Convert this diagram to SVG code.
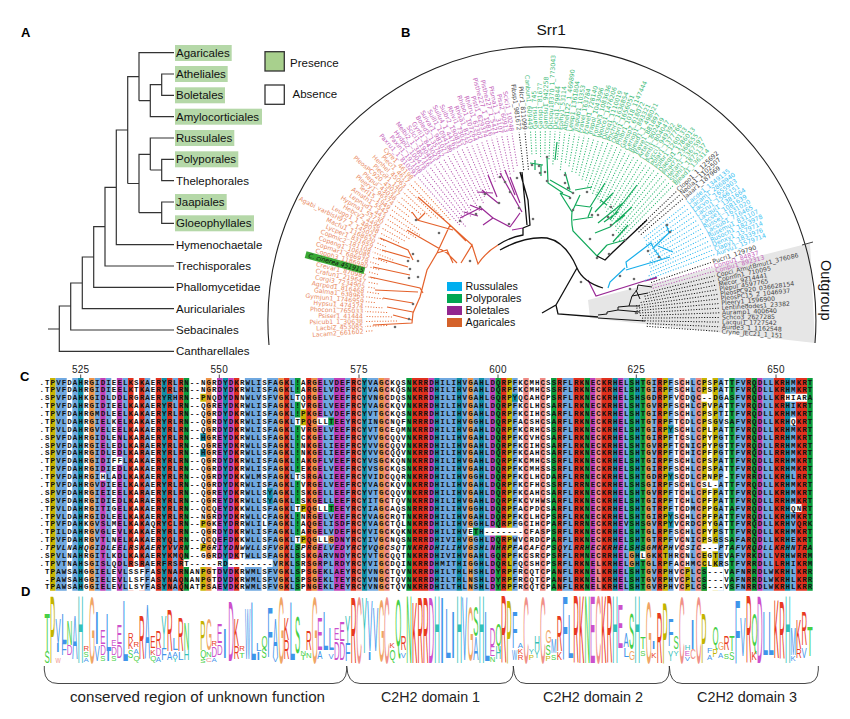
<svg xmlns="http://www.w3.org/2000/svg" width="850" height="719" viewBox="0 0 850 719">
<style>
text{font-family:"Liberation Sans",Arial,sans-serif}
.pl{font-size:13px;font-weight:bold;fill:#000}
.ln{fill:none;stroke:#333;stroke-width:1.2}
.sp{font-size:11.500px;fill:#111}
.hl{fill:#b5d8a8}
.lf text{font-family:"DejaVu Sans",sans-serif;font-size:6.200px}
.lf path{fill:none;stroke-width:1;stroke-dasharray:1.100 1.600}
.L{text-anchor:end}
.ko text{fill:#e98a63}.ko path{stroke:#e8703c}
.kp text{fill:#c464bb}.kp path{stroke:#b352ae}
.kg text{fill:#3dba78}.kg path{stroke:#22b569}
.kb text{fill:#43c3f2}.kb path{stroke:#2ab8ef}
.kk text{fill:#444}.kk path{stroke:#111}
.sl{fill:none;stroke-width:1.200}
.dots circle{fill:#6a6a6a}
.bg path{fill:none;stroke-width:1}
.y{stroke:#c8b400}.b{stroke:#6fa8e0}.t{stroke:#0f8fa8}.r{stroke:#e0301e}.m{stroke:#c040b8}.n{stroke:#0a9d3c}.c{stroke:#ee8a84}.o{stroke:#ee9448}.w{stroke:#fff}
.aln text{font-family:"Liberation Mono",monospace;font-weight:bold;font-size:7.500px;letter-spacing:1.067px;fill:#111}
.num{font-size:10px;fill:#222;text-anchor:middle;letter-spacing:.3px}
#logo text{font-size:10px}
#logo .G{fill:#46cf46}#logo .P{fill:#c4b400}#logo .B{fill:#3f95ea}#logo .T{fill:#35bfb8}#logo .O{fill:#f0a565}#logo .C{fill:#f09088}#logo .R{fill:#e83a22}#logo .M{fill:#cc50cc}
.dm{font-size:14px;fill:#222}
</style>

<text class="pl" x="21" y="37">A</text>
<text class="pl" x="401" y="37">B</text>
<text class="pl" x="20" y="381">C</text>
<text class="pl" x="21" y="596">D</text>

<g id="panelA">
<g id="highlights">
<rect class="hl" x="175" y="45" width="56.700" height="16"/>
<rect class="hl" x="175" y="66" width="52.700" height="16"/>
<rect class="hl" x="175" y="87.300" width="50" height="16"/>
<rect class="hl" x="175" y="108.700" width="87" height="16"/>
<rect class="hl" x="175" y="130" width="59.300" height="16"/>
<rect class="hl" x="175" y="151.300" width="63.300" height="16"/>
<rect class="hl" x="175" y="194" width="51.700" height="16"/>
<rect class="hl" x="175" y="215.300" width="79" height="16"/>
</g>
<g id="speciesTree">
<path class="ln" d="M174 52.700H139V100.700M174 74H161.700V95.300H174M161.700 84.700H150.300V116.700H174M150.300 100.700H139M139 76.700H127.700V183.500M174 138H150.300V170M174 159.300H161.700V180.700H174M161.700 170H150.300M150.300 154.300H139V212.700M174 202H161.700V223.300H174M161.700 212.700H139M139 183.500H127.700M127.700 130H116.300V244.700H174M116.300 187.300H105V266H174M105 226.700H93.700V287.300H174M93.700 257H82.300V308.700H174M82.300 283H70.700V330H174M70.700 306H59.300V351.300H174M59.300 329H48"/>
</g>
<g class="sp">
<text x="176" y="56.700">Agaricales</text>
<text x="176" y="78">Atheliales</text>
<text x="176" y="99.300">Boletales</text>
<text x="176" y="120.700">Amylocorticiales</text>
<text x="176" y="142">Russulales</text>
<text x="176" y="163.300">Polyporales</text>
<text x="176" y="184.700">Thelephorales</text>
<text x="176" y="206">Jaapiales</text>
<text x="176" y="227.300">Gloeophyllales</text>
<text x="176" y="248.700">Hymenochaetale</text>
<text x="176" y="270">Trechisporales</text>
<text x="176" y="291.300">Phallomycetidae</text>
<text x="176" y="312.700">Auriculariales</text>
<text x="176" y="334">Sebacinales</text>
<text x="176" y="355.300">Cantharellales</text>
</g>
<g id="legendA">
<rect x="265" y="51.700" width="19.300" height="19.300" fill="#a8d08d" stroke="#333" stroke-width="1.300"/>
<rect x="265" y="85" width="19.300" height="19.300" fill="#fff" stroke="#333" stroke-width="1.300"/>
<text x="290" y="66.700" font-size="11.500" fill="#111">Presence</text>
<text x="292.500" y="98" font-size="11.500" fill="#111">Absence</text>
</g>
</g>

<g id="panelB">
<path d="M588 300L810 243L815 343L590 318Z" fill="#e6e6e6"/>
<path d="M269 345A274 274 0 1 1 815 343" fill="none" stroke="#222" stroke-width="1.100"/>
<path d="M802 245L813 242" stroke="#444" stroke-width="1"/>
<text x="536.500" y="35" font-size="15.500" fill="#111">Srr1</text>
<text transform="translate(821 260) rotate(90)" font-size="14.500" fill="#111">Outgroup</text>

<g id="connectors">
<path class="sl" stroke="#e4622c" d="M498 245Q486 252 478 264L472 245L461 263M418 197L450 225L466 241M412 212L418 220L425 213M417 220L453 230M407 230L447 253L457 263M380 238L408 250L413 260M382 250L410 258M378 258L408 267M373 267L410 275M370 277L420 288L423 293M375 290L418 292M383 298L413 303M387 307L413 312M393 315L412 320M373 325L412 323L413 313L420 297L427 270L437 253L447 250L453 263M437 253L450 225L472 245"/>
<path class="sl" stroke="#9a2a96" d="M512 230L523 228M510 227L493 218L483 225M493 218L480 207M480 208L460 218M477 192L493 193M498 203L482 190M520 203L510 177M522 212L500 173M513 223L520 213L510 227M588 280L596 296L657 277M645 281L657 278M488 175L497 197M505 170L515 195M464 212L478 216M470 205L482 210"/>
<path class="sl" stroke="#12a95b" d="M597 256L573 231Q571 222 572 212L560 193M560 193L570 197M573 220L593 217M588 217L592 207M590 207L605 183M595 212L613 193M598 223L623 203M610 220L637 185M595 233L610 227L632 207M607 245L625 240M613 242L628 225M597 256L607 245M530 163L543 165M547 157L548 183L563 193M557 142L555 160M575 190L592 187M550 180L573 193M535 160V170M541 165V176M565 172L570 190M580 195L572 212M600 200L607 205M604 222L618 212M575 205L590 207M616 222L625 215"/>
<path class="sl" stroke="#18aeea" d="M608 288L610 282L625 268M627 268L626 262L651 243L654 249M626 270L670 257M654 247L672 230M666 224L669 233M654 249L662 260M658 246L673 252"/>
<g class="sl" stroke="#111">
<path fill="none" stroke-width="1.300" d="M498 245Q510 237 523 235V228M500 250Q525 236 547 238Q566 242 577 268Q583 282 603 288M523 228L530 225L528 200L520 172M527 225L522 172M542 313L556 305L558 314L598 317M556 305L577 268M605 260L613 252L647 220M597 256L605 260L613 252"/>
<path fill="none" stroke-width="1" d="M598 315L607 314V312L618 310V307L629 306L632 296L637 290L638 285L652 287M598 318L645 321M629 306L640 306M632 296L648 293M636 290L640 299M618 310L640 312"/>
</g>
</g>

<g class="lf" transform="translate(542 319)">
<g id="agaricales" class="ko L">
<g transform="rotate(-4)"><path d="M-170 0H-177"/><text x="-179" y="2">Lacam2_661602</text></g>
<g transform="rotate(-2.400)"><path d="M-155 0H-177"/><text x="-179" y="2">Lacbi2_453085</text></g>
<g transform="rotate(-.8)"><path d="M-145 0H-177"/><text x="-179" y="2">Psicub1_1_30638</text></g>
<g transform="rotate(.8)"><path d="M-150 0H-177"/><text x="-179" y="2">Psiser1_41444</text></g>
<g transform="rotate(2.400)"><path d="M-155 0H-177"/><text x="-179" y="2">Phocon1_765033</text></g>
<g transform="rotate(4)"><path d="M-160 0H-177"/><text x="-179" y="2">Hypsu1_474374</text></g>
<g transform="rotate(5.600)"><path d="M-168 0H-177"/><text x="-179" y="2">Gymjun1_1746959</text></g>
<g transform="rotate(7.200)"><path d="M-160 0H-177"/><text x="-179" y="2">Galma1_638965</text></g>
<g transform="rotate(8.800)"><path d="M-165 0H-178"/><text x="-180" y="2">Agrped1_816468</text></g>
<g transform="rotate(10.400)"><path d="M-170 0H-178"/><text x="-180" y="2">Corgi3_7234905</text></g>
<g transform="rotate(12)"><path d="M-168 0H-178"/><text x="-180" y="2">Crafun1_219647</text></g>
<g transform="rotate(13.600)"><path d="M-172 0H-179"/><text x="-181" y="2">Crevar1_870987</text></g>
<g transform="rotate(15.200)"><rect x="-245" y="-3.600" width="61" height="7" fill="#3aa935"/><path d="M-170 0H-180"/><text x="-185" y="2" style="fill:#111;font-style:italic">C. cinerea 451915</text></g>
<g transform="rotate(16.800)"><path d="M-170 0H-180"/><text x="-182" y="2">Copph3_1186980</text></g>
<g transform="rotate(18.400)"><path d="M-172 0H-181"/><text x="-183" y="2">Copmar1_686978</text></g>
<g transform="rotate(20)"><path d="M-165 0H-181"/><text x="-183" y="2">Copang1_106085</text></g>
<g transform="rotate(21.600)"><path d="M-160 0H-182"/><text x="-184" y="2">Copmic2_181108</text></g>
<g transform="rotate(23.200)"><path d="M-170 0H-182"/><text x="-184" y="2">Lycper1_831659</text></g>
<g transform="rotate(24.800)"><path d="M-172 0H-182"/><text x="-184" y="2">Macfu1_1168630</text></g>
<g transform="rotate(26.400)"><path d="M-176 0H-183"/><text x="-185" y="2">Agabi_varbisH97_2_145024</text></g>
<g transform="rotate(28)"><path d="M-162 0H-183"/><text x="-185" y="2">Leugo1_1_48038</text></g>
<g transform="rotate(29.600)"><path d="M-158 0H-184"/><text x="-186" y="2">Hebcy2_4496</text></g>
<g transform="rotate(31.200)"><path d="M-155 0H-184"/><text x="-186" y="2">Hypma1_55730</text></g>
<g transform="rotate(32.800)"><path d="M-150 0H-185"/><text x="-187" y="2">Lepnud1_443</text></g>
<g transform="rotate(34.400)"><path d="M-148 0H-185"/><text x="-187" y="2">Amath1_5542</text></g>
<g transform="rotate(36)"><path d="M-152 0H-186"/><text x="-188" y="2">Terl15_1949</text></g>
<g transform="rotate(37.600)"><path d="M-168 0H-186"/><text x="-188" y="2">Pleery1_96574</text></g>
<g transform="rotate(39.200)"><path d="M-165 0H-187"/><text x="-189" y="2">Plepul_43038</text></g>
<g transform="rotate(40.800)"><path d="M-160 0H-187"/><text x="-189" y="2">PleosPC920_43037</text></g>
<g transform="rotate(42.400)"><path d="M-150 0H-188"/><text x="-190" y="2">Plecor1_140</text></g>
<g transform="rotate(44)"><path d="M-145 0H-188"/><text x="-190" y="2">Henhel_45063</text></g>
<g transform="rotate(45.600)"><path d="M-140 0H-189"/><text x="-191" y="2">Pleci1_4617</text></g>
<g transform="rotate(47.200)"><path d="M-135 0H-189"/><text x="-191" y="2">Cyre1_46198</text></g>
</g>
<g id="boletales" class="kp L">
<g transform="rotate(48.800)"><path d="M-125 0H-188"/><text x="-190" y="2">Paxru1_1_810291</text></g>
<g transform="rotate(50.400)"><path d="M-120 0H-188"/><text x="-190" y="2">Paxin1_197108</text></g>
<g transform="rotate(52)"><path d="M-128 0H-188"/><text x="-190" y="2">Hydpi2_100478</text></g>
<g transform="rotate(53.600)"><path d="M-130 0H-188"/><text x="-190" y="2">Melbi2_1_385716</text></g>
<g transform="rotate(55.200)"><path d="M-125 0H-188"/><text x="-190" y="2">Sclci1_190461</text></g>
<g transform="rotate(56.800)"><path d="M-130 0H-188"/><text x="-190" y="2">Gyrli1_843023</text></g>
<g transform="rotate(58.400)"><path d="M-140 0H-188"/><text x="-190" y="2">Boled5_135762</text></g>
<g transform="rotate(60)"><path d="M-125 0H-188"/><text x="-190" y="2">Suivar1_981027</text></g>
<g transform="rotate(61.600)"><path d="M-135 0H-188"/><text x="-190" y="2">Suill1_1094186</text></g>
<g transform="rotate(63.200)"><path d="M-130 0H-188"/><text x="-190" y="2">Suilu4_1_44762</text></g>
<g transform="rotate(64.800)"><path d="M-135 0H-188"/><text x="-190" y="2">Suibr2_190831</text></g>
<g transform="rotate(66.400)"><path d="M-138 0H-188"/><text x="-190" y="2">Rhivi1_73025</text></g>
<g transform="rotate(68)"><path d="M-140 0H-188"/><text x="-190" y="2">Rhisa1_8210</text></g>
<g transform="rotate(69.600)"><path d="M-145 0H-188"/><text x="-190" y="2">Rhibo1_107264</text></g>
<g transform="rotate(71.200)"><path d="M-145 0H-188"/><text x="-190" y="2">Rhitru1_67302</text></g>
<g transform="rotate(72.800)"><path d="M-148 0H-188"/><text x="-190" y="2">Pisti1_629374</text></g>
<g transform="rotate(74.400)"><path d="M-150 0H-188"/><text x="-190" y="2">Pisthe227_1_10816</text></g>
<g transform="rotate(76)"><path d="M-150 0H-188"/><text x="-190" y="2">Pisthe227_1_5421</text></g>
<g transform="rotate(77.600)"><path d="M-148 0H-188"/><text x="-190" y="2">Pisma1_1_3107</text></g>
<g transform="rotate(79.200)"><path d="M-150 0H-188"/><text x="-190" y="2">Pisa2_60913</text></g>
<g transform="rotate(80.800)"><path d="M-155 0H-188"/><text x="-190" y="2">Scici1_10248</text></g>
</g>
<g class="kk L">
<g transform="rotate(83)"><path d="M-150 0H-188"/><text x="-190" y="2">Fibsp1_981672</text></g>
<g transform="rotate(84.800)"><path d="M-150 0H-188"/><text x="-190" y="2">Pilcr1_811099</text></g>
</g>
<g class="kg L">
<g transform="rotate(86.500)"><path d="M-165 0H-188"/><text x="-190" y="2">Canbun1_609449</text></g>
</g>
<g id="polyporales" class="kg">
<g transform="rotate(-92)"><path d="M165 0H188"/><text x="190" y="2">Gamsi1_745</text></g>
<g transform="rotate(-90.500)"><path d="M162 0H188"/><text x="190" y="2">Gansp1_81677</text></g>
<g transform="rotate(-89)"><path d="M165 0H188"/><text x="190" y="2">Gamsu1_942258</text></g>
<g transform="rotate(-87.500)"><path d="M160 0H188"/><text x="190" y="2">Dicsqu18370_1_773043</text></g>
<g transform="rotate(-86)"><path d="M155 0H188"/><text x="190" y="2">Dicsq1_29844</text></g>
<g transform="rotate(-84.500)"><path d="M160 0H188"/><text x="190" y="2">Epihy1_53114</text></g>
<g transform="rotate(-83)"><path d="M150 0H188"/><text x="190" y="2">Athel122_1_469890</text></g>
<g transform="rotate(-81.500)"><path d="M158 0H188"/><text x="190" y="2">Leisp1_1361804</text></g>
<g transform="rotate(-80)"><path d="M155 0H188"/><text x="190" y="2">Trapub1_10353</text></g>
<g transform="rotate(-78.500)"><path d="M150 0H188"/><text x="190" y="2">Fravel_163784</text></g>
<g transform="rotate(-77)"><path d="M150 0H188"/><text x="190" y="2">Fravel1_728140</text></g>
<g transform="rotate(-75.500)"><path d="M148 0H188"/><text x="190" y="2">Trapol_1043096</text></g>
<g transform="rotate(-74)"><path d="M145 0H188"/><text x="190" y="2">Fompi3_1083636</text></g>
<g transform="rotate(-72.500)"><path d="M145 0H188"/><text x="190" y="2">Wolco1_1476206</text></g>
<g transform="rotate(-71)"><path d="M140 0H188"/><text x="190" y="2">Dicsq1_1110019</text></g>
<g transform="rotate(-69.500)"><path d="M138 0H188"/><text x="190" y="2">Phchr2_1636854</text></g>
<g transform="rotate(-68)"><path d="M135 0H188"/><text x="190" y="2">Obbri1_1656051</text></g>
<g transform="rotate(-66.500)"><path d="M135 0H188"/><text x="190" y="2">Phlbr1_1018_1147444</text></g>
<g transform="rotate(-65)"><path d="M132 0H187"/><text x="189" y="2">Gansp2_618072</text></g>
<g transform="rotate(-63.500)"><path d="M130 0H187"/><text x="189" y="2">Ceriop1_893321</text></g>
<g transform="rotate(-62)"><path d="M130 0H187"/><text x="189" y="2">Bjead1_1_498021</text></g>
<g transform="rotate(-60.500)"><path d="M128 0H187"/><text x="189" y="2">Trave1_881897</text></g>
<g transform="rotate(-59)"><path d="M125 0H187"/><text x="189" y="2">Artel1_802449</text></g>
<g transform="rotate(-57.500)"><path d="M125 0H187"/><text x="189" y="2">Lenti1_804047</text></g>
<g transform="rotate(-56)"><path d="M122 0H187"/><text x="189" y="2">Pycci1_949392</text></g>
<g transform="rotate(-54.500)"><path d="M120 0H187"/><text x="189" y="2">Polar1_1377766</text></g>
<g transform="rotate(-53)"><path d="M120 0H187"/><text x="189" y="2">Polbr1_1260133</text></g>
<g transform="rotate(-51.500)"><path d="M118 0H187"/><text x="189" y="2">Daequ1_1786013</text></g>
<g transform="rotate(-50)"><path d="M115 0H187"/><text x="189" y="2">Phacr1_2368655</text></g>
<g transform="rotate(-48.500)"><path d="M115 0H187"/><text x="189" y="2">Hetan1_1367597</text></g>
<g transform="rotate(-47)"><path d="M112 0H187"/><text x="189" y="2">Stehi1_1875137</text></g>
<g transform="rotate(-45.500)"><path d="M110 0H187"/><text x="189" y="2">Bjead1_136314</text></g>
</g>
<g class="kk">
<g transform="rotate(-43.500)"><path d="M130 0H185"/><text x="187" y="2">Clopo1_1_125692</text></g>
<g transform="rotate(-42)"><path d="M130 0H185"/><text x="187" y="2">Neola1_1102507</text></g>
<g transform="rotate(-40.500)"><path d="M130 0H185"/><text x="187" y="2">Jaaar1_187969</text></g>
</g>
<g id="russulales" class="kb">
<g transform="rotate(-38.500)"><path d="M130 0H184"/><text x="186" y="2">Lacde1_1349135</text></g>
<g transform="rotate(-37)"><path d="M130 0H184"/><text x="186" y="2">Lacam1_2868940</text></g>
<g transform="rotate(-35.500)"><path d="M128 0H184"/><text x="186" y="2">Lacvo1_1655903</text></g>
<g transform="rotate(-34)"><path d="M128 0H184"/><text x="186" y="2">Lacru1_1566151</text></g>
<g transform="rotate(-32.500)"><path d="M125 0H184"/><text x="186" y="2">Lacqui1_1381664</text></g>
<g transform="rotate(-31)"><path d="M125 0H184"/><text x="186" y="2">Lacse1_1081639</text></g>
<g transform="rotate(-29.500)"><path d="M125 0H184"/><text x="186" y="2">Russe1_1631020</text></g>
<g transform="rotate(-28)"><path d="M122 0H184"/><text x="186" y="2">Lacsub1_716465</text></g>
<g transform="rotate(-26.500)"><path d="M120 0H184"/><text x="186" y="2">Rusemu1_831107</text></g>
<g transform="rotate(-25)"><path d="M120 0H184"/><text x="186" y="2">Rusoch1_1823978</text></g>
<g transform="rotate(-23.500)"><path d="M118 0H184"/><text x="186" y="2">Denxy1_1579714</text></g>
<g transform="rotate(-22)"><path d="M115 0H184"/><text x="186" y="2">Clapy1_1833976</text></g>
<g transform="rotate(-20.500)"><path d="M110 0H184"/><text x="186" y="2">Aurvu1_1579714</text></g>
</g>
<g class="kk"><g transform="rotate(-18.500)"><path d="M115 0H178"/><text x="180" y="2">Pucri1_129790</text></g></g>
<g class="kp">
<g transform="rotate(-17)"><path d="M115 0H178"/><text x="180" y="2">Conpu1_84837</text></g>
<g transform="rotate(-15.500)"><path d="M115 0H178"/><text x="180" y="2">Conpu1_892313</text></g>
</g>
<g id="outgroup" class="kk">
<g transform="rotate(-14)"><path d="M110 0H178"/><text x="180" y="2">Copci_AmutBmut1_376086</text></g>
<g transform="rotate(-12.500)"><path d="M105 0H178"/><text x="180" y="2">Copmin1_710095</text></g>
<g transform="rotate(-11)"><path d="M105 0H178"/><text x="180" y="2">Mecor_9214441</text></g>
<g transform="rotate(-9.500)"><path d="M100 0H178"/><text x="180" y="2">Plepul_4597765</text></g>
<g transform="rotate(-8)"><path d="M95 0H178"/><text x="180" y="2">PleosPC920_036628154</text></g>
<g transform="rotate(-6.500)"><path d="M95 0H178"/><text x="180" y="2">PleosPC15_2_1046937</text></g>
<g transform="rotate(-5)"><path d="M95 0H178"/><text x="180" y="2">Pleery1_1596900</text></g>
<g transform="rotate(-3.500)"><path d="M95 0H178"/><text x="180" y="2">Lentinedodes1_23382</text></g>
<g transform="rotate(-2)"><path d="M98 0H178"/><text x="180" y="2">Auramp1_400640</text></g>
<g transform="rotate(-.5)"><path d="M100 0H178"/><text x="180" y="2">Schco3_2627285</text></g>
<g transform="rotate(1)"><path d="M100 0H178"/><text x="180" y="2">Lacqui1_1727542</text></g>
<g transform="rotate(2.500)"><path d="M105 0H178"/><text x="180" y="2">Aurde3_1_1162548</text></g>
<g transform="rotate(4)"><path d="M105 0H178"/><text x="180" y="2">Cryne_JEC21_1_151</text></g>
</g>
</g>

<g class="dots">
<circle cx="470" cy="261" r="1.300"/><circle cx="439" cy="233" r="1.300"/><circle cx="416" cy="220" r="1.300"/><circle cx="413" cy="254" r="1.300"/><circle cx="408" cy="261" r="1.300"/><circle cx="418" cy="261" r="1.300"/><circle cx="410" cy="269" r="1.300"/><circle cx="418" cy="277" r="1.300"/><circle cx="409" cy="278" r="1.300"/><circle cx="413" cy="304" r="1.300"/><circle cx="409" cy="319" r="1.300"/><circle cx="395" cy="327" r="1.300"/>
<circle cx="460" cy="221" r="1.300"/><circle cx="476" cy="214" r="1.300"/><circle cx="480" cy="207" r="1.300"/><circle cx="499" cy="203" r="1.300"/><circle cx="510" cy="192" r="1.300"/><circle cx="519" cy="208" r="1.300"/><circle cx="509" cy="224" r="1.300"/><circle cx="485" cy="194" r="1.300"/><circle cx="500" cy="177" r="1.300"/><circle cx="505" cy="182" r="1.300"/><circle cx="517" cy="178" r="1.300"/><circle cx="533" cy="219" r="1.300"/>
<circle cx="532" cy="165" r="1.300"/><circle cx="539" cy="166" r="1.300"/><circle cx="545" cy="172" r="1.300"/><circle cx="540" cy="173" r="1.300"/><circle cx="547" cy="181" r="1.300"/><circle cx="547" cy="157" r="1.300"/><circle cx="565" cy="175" r="1.300"/><circle cx="568" cy="188" r="1.300"/><circle cx="573" cy="193" r="1.300"/><circle cx="587" cy="192" r="1.300"/><circle cx="565" cy="183" r="1.300"/><circle cx="570" cy="198" r="1.300"/><circle cx="573" cy="210" r="1.300"/><circle cx="592" cy="215" r="1.300"/><circle cx="598" cy="215" r="1.300"/><circle cx="611" cy="207" r="1.300"/><circle cx="608" cy="217" r="1.300"/><circle cx="611" cy="225" r="1.300"/><circle cx="613" cy="235" r="1.300"/><circle cx="625" cy="240" r="1.300"/><circle cx="590" cy="239" r="1.300"/><circle cx="609" cy="254" r="1.300"/><circle cx="597" cy="258" r="1.300"/><circle cx="581" cy="282" r="1.300"/>
<circle cx="648" cy="251" r="1.300"/><circle cx="659" cy="257" r="1.300"/><circle cx="667" cy="225" r="1.300"/><circle cx="670" cy="232" r="1.300"/><circle cx="620" cy="276" r="1.300"/><circle cx="634" cy="279" r="1.300"/><circle cx="630" cy="289" r="1.300"/><circle cx="636" cy="313" r="1.300"/>
</g>

<g id="legendB">
<rect x="447" y="282" width="15" height="9" fill="#00aeef"/>
<rect x="447" y="294" width="15" height="9" fill="#00a651"/>
<rect x="447" y="306" width="15" height="9" fill="#92278f"/>
<rect x="447" y="318" width="15" height="9" fill="#d4622a"/>
<g font-size="10.700" fill="#111">
<text x="465.500" y="290">Russulales</text>
<text x="465.500" y="302">Polyporales</text>
<text x="465.500" y="314">Boletales</text>
<text x="465.500" y="326">Agaricales</text>
</g>
</g>
</g>

<g id="panelC">
<g class="num">
<text x="80.700" y="372.500">525</text>
<text x="219.300" y="372.500">550</text>
<text x="359" y="372.500">575</text>
<text x="498" y="372.500">600</text>
<text x="636.300" y="372.500">625</text>
<text x="776" y="372.500">650</text>
</g>
<path d="M80.700 374.500V378M219.300 374.500V378M359 374.500V378M498 374.500V378M636.300 374.500V378M776 374.500V378" stroke="#222" stroke-width=".8"/>
<g class="bg" transform="translate(38.900 378) scale(5.567 7.88)">
<path class="y" d="M2.500 0v27M84.500 0v27M112.500 0v27M119.500 0v27M121.500 0v27"/>
<path class="b" d="M3.500 0v27M4.500 0v27M6.500 0v27M10.500 0v27M12.500 0v27M15.500 0v27M19.500 0v27M24.500 0v27M37.500 0v27M38.500 0v27M39.500 0v27M41.500 0v27M42.500 0v27M45.500 0v27M51.500 0v27M52.500 0v27M55.500 0v27M59.500 0v27M60.500 0v27M72.500 0v27M73.500 0v27M74.500 0v27M76.500 0v27M78.500 0v27M80.500 0v27M85.500 0v27M94.500 0v27M95.500 0v27M105.500 0v27M110.500 0v27M113.500 0v27M117.500 0v27M122.500 0v27M125.500 0v27M126.500 0v27M130.500 0v27M131.500 0v27M135.500 0v27"/>
<path class="t" d="M7.500 0v27M22.500 0v27M33.500 0v27M58.500 0v27M71.500 0v27M75.500 0v27M79.500 0v27M103.500 0v27M107.500 0v27M134.500 0v27"/>
<path class="r" d="M16.500 0v27M18.500 0v27M21.500 0v27M23.500 0v27M25.500 0v27M35.500 0v27M44.500 0v27M48.500 0v27M56.500 0v27M67.500 0v27M68.500 0v27M69.500 0v27M83.500 0v27M93.500 0v27M96.500 0v27M97.500 0v27M101.500 0v27M102.500 0v27M111.500 0v27M127.500 0v27M132.500 0v27M133.500 0v27M136.500 0v27M137.500 0v27"/>
<path class="m" d="M11.500 0v27M14.500 0v27M32.500 0v27M34.500 0v27M50.500 0v27M53.500 0v27M54.500 0v27M70.500 0v27M81.500 0v27M99.500 0v27M104.500 0v27M129.500 0v27"/>
<path class="n" d="M26.500 0v27M46.500 0v27M66.500 0v27M82.500 0v27M92.500 0v27M98.500 0v27M106.500 0v27M108.500 0v27M124.500 0v27M128.500 0v27M138.500 0v27"/>
<path class="c" d="M57.500 0v27M62.500 0v27M87.500 0v27M90.500 0v27M100.500 0v27M115.500 0v27M118.500 0v27"/>
<path class="o" d="M9.500 0v27M30.500 0v27M43.500 0v27M49.500 0v27M61.500 0v27M77.500 0v27M109.500 0v27"/>
<path class="w" d="M80 19.500h7M119 2.500h2M119 13.500h3M123 12.500h1M119 21.500h3M120 24.500h3M120 25.500h3M120 26.500h3M26 23.500h7M34 23.500h8M16 24.500h3M16 25.500h3M16 26.500h3M27 24.500h2M27 25.500h2M27 26.500h2M11 12.500h1M13 12.500h1M13 10.500h2M50 5.500h2M50 16.500h2M50 20.500h2M46 5.500h1M46 2.500h1M46 12.500h1M46 16.500h1M46 20.500h1M134 2.500h4M135 5.500h1M135 16.500h2M108 22.500h1M77 19.500h1"/>
<path class="t" d="M29 7.500h1M29 9.500h1M41 14.500h1M41 15.500h1M23 2.500h1M85 2.500h1M113 6.500h1M113 12.500h1M113 17.500h1M113 18.500h1"/>
<path class="y" d="M29 2.500h1M29 18.500h1M29 21.500h1M29 24.500h1M29 25.500h1M29 26.500h1M47 4.500h1M47 5.500h1M47 16.500h1M47 20.500h1M116 24.500h1M116 25.500h1M116 26.500h1M121 23.500h1"/>
<path class="n" d="M52 5.500h1M52 16.500h1M78 19.500h1M119 24.500h1M119 25.500h1M119 26.500h1"/>
<path class="o" d="M52 20.500h1M106 22.500h1M106 23.500h1"/>
</g>
<g class="aln" id="sequences">
<text x="39.450" y="384.500">.TPVFDAHRGIDIEELKSKAERYRLRN--NGRDYDKRWLISFAGKL!ARGELVDEFRCYVAGCKQSNKRRDHILIHVGAHLDQRPFKCMHCSSRFLRKNECKRHELSHTGIRPFSCHLCPSPATTFVRQDLLKRHMKRT</text>
<text x="39.450" y="392.400">.TPVFDAHRGIDIEELKTKAERYRLRN--NGRDYDKRWLISFAGKL!ARGELVDEFRCYVAGCKQSNKRRDHILIHVGAHLDQRPFKCMHCSSRFLRKNECKRHELSHTGIRPFSCHLCPSPATTFVRQDLLKRHMKRT</text>
<text x="39.450" y="400.300">.SPVFDAHKGIDLDDLRGRAERYRHRN--PNQDYDNNWLVSFVGKLTQRGELVEEFRCYVNGCDQSNKRRDHILIHVGAHLGQRPYQCAHCPSRFLRKNECKRHELSHSGDRPFVCDQC--DGASFVRQDLLKRHIARA</text>
<text x="39.450" y="408.100">.TPVFDAHRGIDIEELKAKAERYRLRN--QGREYDKRWLISFAGKL!VRGELVEEFRCYVAGCKQVNKRRDHILIHVGAHLDQRPFKCLHCSARFLRKNECKRHELSHTGVRPFSCHLCPVPATTFVRQDLLKRHIKRT</text>
<text x="39.450" y="416">.TPVFDAHRGMDLEELKAKAERYRLRN--QGRDYDKRWLISFAGKL!PKGELVDEFRCYVTGCKQSNKRRDHILIHVGAHLDQRPFKCIHCSARFLRKNECKRHELSHTGIRPFSCHLCPSPTITFVRQDLLKRHMKRT</text>
<text x="39.450" y="423.900">.TPVLDAHRGIELKELKAKAERYRLRN--QGRDYDKRWLISFAGKLTPQGLLTEEYRCYINGCNQFNRRRDHILIHVGGHLDQRPFACSHCSARFLRKNECKRHELSHTGTRPFTCDLCPSGVSAFVRQDLLKRHQKRT</text>
<text x="39.450" y="431.800">.TPVLDAHRGVELEELKAKAERYRLRN--QGRDYDKRWLISFAGKL!VRGELVEEFRCYVTGCEQMNKRRDHILIHVGAHLDQRPFKCRHCSSRFLRKNECKRHELSHTGIRPYSCHLCPLPATTFVRQDLLKRHMKRT</text>
<text x="39.450" y="439.700">.SPVFDAHRGIDLENLKARAERYRLRN--HGREYDKRWLLSFAGKL!CKGELIEEFRCYVVGCQQVNKRRDHILIHVGAHLDQRPFKCVHCSARFLRKNECKRHELSHTGIRPFTCSLCPYPGTTFVRQDLLRRHMKRT</text>
<text x="39.450" y="447.500">.SPVFDAHRGIELEDLKARAERYRLRN--QGREYDKRWLLSFAGKL!NKGELIEEFRCYVVGCQQVNKRRDHILIHVGAHLDQRPFKCIHCSARFLRKNECKRHELSHTGVRPFTCNICPYPGTTFVRQDLLRRHMKRT</text>
<text x="39.450" y="455.400">.SPVFDAHRGIDLEDLKARAERYRLRN--HGREYDKRWLLSFAGKL!NKGELIEEFRCYVVGCQQVNKRRDHILIHVGAHLDQRPFKCAHCSARFLRKNECKRHELSHTGVRPFTCHICPFPGTTFVRQDLLRRHMKRT</text>
<text x="39.450" y="463.300">.TPVFDAHRGIDIFFLKAKAERYRLRN--QGRDYDKRWLISFAGKL!AKGFLVEEFRCYVSGCKQNNKRRDHILIHVGAHLDQRPFKCMHCSSRFLRKNECKRHELSHTGIRPFSCHLCPSPATTFVRQDLLRRHMKRT</text>
<text x="39.450" y="471.200">.TPVFDAHRGIDIEDLKAKAERYRLRN--QGRDYDKRWLISFAGKL!EKGELVEEFRCYVSGCKQSNKRRDHILIHVGAHLDQRPFKCMHSSSRFLRKNECKRHELSHTGIRPFSCHLCPSPATTFVRQDLLKRHMKRT</text>
<text x="39.450" y="479.100">.TPVFDAHRGIHLADLKAKAERYRLRN--QGRDYDKKWLMSFAGKLTSRGALIEEFRCYVIDCQQRNKRRDHILIHVGGHLDQRPFKCLHCDARFLRRNECKRHELSHTGDRPYSCDLCPNPP-TFVRRDLLKRHLRRT</text>
<text x="39.450" y="486.900">.TPVFDAHRGVDIEELKAKAERYRLRN--QGRDYDKRWLISFAGKL!VRGELVEEFRCYVAGCKQVNKRRDHILIHVGAHLDQRPFKCFHCSSRFLRRNECKRHELSHSGIRPFSCHLCSL-ATTFVRQDLLKRHMKRT</text>
<text x="39.450" y="494.800">.SPVFDAHRGIEIEELKARAERYRLRN--QGREYDKRWLLSYAGKL!SKGELLEEFRCYVTGCQQVNKRRDHILIHVGAHLDQRPFKCAHCSARFLRKNECKRHELSHTGVRPFTCHLCPFPATTFVRQDLLKRHMKRT</text>
<text x="39.450" y="502.700">.SPVFDAHRGIDIEDLKARAERYRLRN--QGREYDKRWLLSYAGKL!SKGELLEEFRCYITGCTQVNKRRDHILIHVGAHLDQRPFKCVHWSARFLRKNECKRHELSHTGIRPFTCHLCPFPATTFVRQDLLRRHMKRT</text>
<text x="39.450" y="510.600">.TPVLDAHRGITIGELKAKAERYRLRN--QCQEYDKKWLLSFAGKLTPQGLLTEEYRCYIAGCAQSNRRRDHILIHVGGHLDQRPFACPDCSARFLRKNECKRHELSHTGTRPFTCDMCPPGATAFVRQDLLKRHQNRT</text>
<text x="39.450" y="518.500">.TPVLDAHRGIDLEELKAKAERYRLRN--NGRDYDKRWLLCFAGKL!NRGELVEEFRCYVAGCRQTNKRRDHILIHVGAHLDQRPFKCLHCPSRFLRKNECKRHELSHTGIRPYSCHLCPFPATTFVRQDLLKRHMKRT</text>
<text x="39.450" y="526.300">.TPVFDAHKGVSLMELKAKAQRYCLRN--PGKEYDRRWLILFAGKL!AQGELISDFRCYVAGCTQLNKRRDHILIHVGGHLDQRPFGCIHCPARFLRRNECKRHEVSHSGVRPYVCRDCPYGATTFVRQDLLKRHVQRK</text>
<text x="39.450" y="534.200">.TPILDAHRGVGLEVLKAKAERYRLRN--QGRDYDKRWLISFAGKL!ARGELVDEFHCYVIGCKQKNKRRDHILIHVETH-------CFASPSRFLRKNECKRHELSHTGLRPFSCHLCPYPSTTFVRQDLLKRHMKRT</text>
<text x="39.450" y="542.100">.TPVFDAHRGVTLNELKAKAERYQLRN--QCQEFDKKWLLSFAGKLTPQGLLGDNYRCYIVGCNQSNRRRDHIVIHVGGHLDQRPWVCRDCPARFLRKNECKRHELSHTGTRPFVCNICPSGSSAFARQDLLKRHEKRT</text>
<text x="39.450" y="550" font-style="italic">.TPVLNAHQGIDLEELRSKAERYVVRN--PGRIYDNWWLLSFVGKLSPRGELVEDYRCYVQGCSQTNKRRDHILIHVGSHLNHRPFACAFCPSQYLRRHECKRHELSHSGMKPHVCSIC---PTAFVRQDLLKRHNTRA</text>
<text x="39.450" y="557.900">.SPVLNAHRGITLKDLKAKAERYKMQN--GGRDYDKTWLLSFAGKLSSKGARVNDYRCYVTGCQQTNKRRDHIVIHVGAHLGQRPFKCSRCPSRFLRMNECRRHELGHLGKKTHRCNLCEGTEVAFVRKDLLVRHWRRM</text>
<text x="39.450" y="565.700">.TPVTNAHSGISLQDLRSRAERFRSRT-----RD--------VRKLSRSGRPLRDYRCYVIGCDQINKRRDHMITHIGGHLDQRLFQCSHCPSRFLRKNELKRHELGHTGLRPFACHMCCLKRSTFVRRDLLLRHIKRM</text>
<text x="39.450" y="573.600">&#160;TPAWSAHGGIELEVLSSFFASYNARNANPGTDVDKRWMLSFVGKLSPSGEKLAEYRCYVNGCTQVNKRRDHILTHLHSHLDYRPFRCQTCPANFLRKNELKRHELSHTGVRPHVCPLCS---VAFNRRDLWKRHLKRR</text>
<text x="39.450" y="581.500">&#160;-PAWSAHGGIELEVLLSFFASYNAQNANPGTDVDKRWMLSFVGKLSPSGEKLTEYRCYVNGCTQVNKRRDHILTHLNSHLDYRPFRCQTCPANFLRKNELKRHELSHTGVRPHVCPLCS---VAFNRRDLWKRHLKRR</text>
<text x="39.450" y="589.400">&#160;TPAWSAHGGIELEVLLSYFASYNAQNATPSAEVDKRWMLSFVGKLSPNGEKLPEYRCYVNGCTQVNKRRDHILTHLNSHLDYRPFRCQTCPANFLRKNELKRHELSHTGVRPHVCPLCS---VSFNRRDLWKRHLKRR</text>
</g>
</g>

<g id="panelD">
<g id="logo" transform="translate(38.900 663) scale(5.567 1)">
<text class="G" transform="translate(1 0)scale(.14 1.700)">S</text><text class="G" transform="translate(1 -12)scale(.16 5.300)">T</text>
<text class="P" transform="translate(2 0)scale(.14 9.700)">P</text>
<text class="B" transform="translate(3 -20)scale(.14 3.500)">V</text><text class="B" transform="translate(3 -11)scale(.3 1.300)">I</text><text class="C" transform="translate(3 0)scale(.1 .7)">W</text>
<text class="B" transform="translate(4 -20)scale(.18 4.200)">L</text><text class="B" transform="translate(4 -8)scale(.16 1.700)">F</text>
<text class="G" transform="translate(5 -18)scale(.14 3.500)">N</text><text class="M" transform="translate(5 -8)scale(.14 1.400)">D</text>
<text class="B" transform="translate(6 -4)scale(.14 6.300)">A</text>
<text class="T" transform="translate(7 0)scale(.14 9.700)">H</text>
<text class="R" transform="translate(8 -12)scale(.14 .7)">R</text><text class="G" transform="translate(8 -6)scale(.14 .7)">S</text><text class="B" transform="translate(8 -1)scale(.14 .6)">A</text>
<text class="O" transform="translate(9 0)scale(.14 9.500)">G</text>
<text class="B" transform="translate(10 -19)scale(.3 4.600)">I</text><text class="B" transform="translate(10 -2)scale(.14 2.200)">V</text>
<text class="M" transform="translate(11 -19)scale(.14 2)">E</text><text class="M" transform="translate(11 -8)scale(.14 1.400)">D</text><text class="G" transform="translate(11 -2)scale(.14 .7)">S</text>
<text class="B" transform="translate(12 -12)scale(.18 5.300)">L</text><text class="B" transform="translate(12 -2)scale(.3 1.400)">I</text>
<text class="M" transform="translate(13 -17)scale(.14 .9)">E</text><text class="M" transform="translate(13 -8)scale(.14 1.100)">D</text><text class="G" transform="translate(13 -2)scale(.14 .7)">S</text>
<text class="M" transform="translate(14 -19)scale(.14 2.800)">E</text><text class="M" transform="translate(14 -5)scale(.14 1.800)">D</text>
<text class="B" transform="translate(15 -2)scale(.18 8.800)">L</text>
<text class="R" transform="translate(16 -22)scale(.14 1)">R</text><text class="R" transform="translate(16 -14)scale(.14 1)">K</text><text class="G" transform="translate(16 -5)scale(.14 1.100)">S</text>
<text class="R" transform="translate(17 -16)scale(.14 .8)">R</text><text class="B" transform="translate(17 -9)scale(.14 .8)">A</text><text class="G" transform="translate(17 -2)scale(.14 .8)">Q</text>
<text class="R" transform="translate(18 -4)scale(.14 6.300)">R</text>
<text class="B" transform="translate(19 -4)scale(.14 7.700)">A</text>
<text class="R" transform="translate(20 -15)scale(.14 1.700)">E</text><text class="R" transform="translate(20 -8)scale(.14 .8)">K</text><text class="G" transform="translate(20 -2)scale(.14 .7)">Q</text>
<text class="R" transform="translate(21 -15)scale(.14 2.400)">R</text><text class="M" transform="translate(21 -7)scale(.14 1)">D</text><text class="B" transform="translate(21 -1)scale(.14 .7)">A</text>
<text class="T" transform="translate(22 -15)scale(.14 4.600)">Y</text><text class="B" transform="translate(22 -3)scale(.16 1.700)">F</text>
<text class="R" transform="translate(23 -12)scale(.14 6)">R</text><text class="B" transform="translate(23 -3)scale(.14 1.100)">A</text>
<text class="B" transform="translate(24 -13)scale(.18 1.700)">L</text><text class="B" transform="translate(24 -6)scale(.14 .8)">A</text><text class="T" transform="translate(24 -1)scale(.14 .7)">Y</text>
<text class="R" transform="translate(25 -12)scale(.14 4.900)">R</text><text class="B" transform="translate(25 -3)scale(.18 1.100)">L</text>
<text class="G" transform="translate(26 -13)scale(.14 3.800)">N</text><text class="T" transform="translate(26 -3)scale(.14 1.400)">H</text>
<text class="P" transform="translate(29 -13)scale(.14 4.200)">P</text><text class="G" transform="translate(29 -5)scale(.14 1)">Q</text><text class="G" transform="translate(29 0)scale(.14 .6)">S</text>
<text class="O" transform="translate(30 -13)scale(.14 4.500)">G</text><text class="G" transform="translate(30 -6)scale(.14 .8)">N</text><text class="C" transform="translate(30 -1)scale(.14 .6)">C</text>
<text class="R" transform="translate(31 -17)scale(.14 .7)">R</text><text class="M" transform="translate(31 -6)scale(.14 1.400)">D</text><text class="B" transform="translate(31 -1)scale(.14 .6)">A</text>
<text class="M" transform="translate(32 -20)scale(.14 2.800)">E</text><text class="M" transform="translate(32 -8)scale(.14 1.400)">D</text>
<text class="B" transform="translate(33 -5)scale(.3 4.200)">I</text>
<text class="M" transform="translate(34 -2)scale(.14 8.500)">D</text>
<text class="R" transform="translate(35 -17)scale(.14 3.800)">K</text><text class="R" transform="translate(35 -4)scale(.14 1.800)">R</text>
<text class="R" transform="translate(36 -12)scale(.14 .7)">R</text><text class="G" transform="translate(36 -5)scale(.16 .7)">T</text>
<text class="B" transform="translate(37 -4)scale(.1 7.300)">W</text>
<text class="B" transform="translate(38 -3)scale(.18 8.400)">L</text>
<text class="B" transform="translate(39 -12)scale(.18 1.100)">L</text><text class="B" transform="translate(39 -3)scale(.3 1.100)">I</text>
<text class="G" transform="translate(40 -15)scale(.14 1.700)">Q</text><text class="G" transform="translate(40 -5)scale(.14 1.400)">S</text>
<text class="B" transform="translate(41 -6)scale(.16 7)">F</text>
<text class="B" transform="translate(42 -6)scale(.14 5.600)">A</text><text class="B" transform="translate(42 -1)scale(.14 .7)">V</text>
<text class="O" transform="translate(43 0)scale(.14 9.400)">G</text>
<text class="R" transform="translate(44 -23)scale(.14 3.200)">K</text><text class="R" transform="translate(44 -4)scale(.14 2.700)">R</text>
<text class="B" transform="translate(45 -3)scale(.18 8.400)">L</text>
<text class="G" transform="translate(46 -10)scale(.14 5.200)">S</text>
<text class="G" transform="translate(47 -8)scale(.14 .6)">N</text><text class="G" transform="translate(47 -3)scale(.16 .7)">T</text>
<text class="R" transform="translate(48 -13)scale(.14 2.800)">R</text><text class="G" transform="translate(48 -5)scale(.14 .8)">N</text>
<text class="O" transform="translate(49 0)scale(.14 9.500)">G</text>
<text class="M" transform="translate(50 -13)scale(.14 4.600)">E</text><text class="B" transform="translate(50 -4)scale(.14 1)">A</text>
<text class="B" transform="translate(51 -13)scale(.18 5.600)">L</text>
<text class="B" transform="translate(52 -13)scale(.18 3.200)">L</text><text class="B" transform="translate(52 -4)scale(.14 .8)">V</text>
<text class="M" transform="translate(53 -23)scale(.14 1.700)">E</text><text class="M" transform="translate(53 -3)scale(.14 2.500)">D</text>
<text class="M" transform="translate(54 -22)scale(.14 2.800)">E</text><text class="M" transform="translate(54 -3)scale(.14 2.500)">D</text>
<text class="T" transform="translate(55 -20)scale(.14 3.900)">Y</text><text class="B" transform="translate(55 -2)scale(.16 2.500)">F</text>
<text class="R" transform="translate(56 0)scale(.14 9.400)">R</text>
<text class="C" transform="translate(57 0)scale(.14 9.400)">C</text>
<text class="T" transform="translate(58 -10)scale(.14 8)">Y</text>
<text class="B" transform="translate(59 -12)scale(.14 7.300)">V</text><text class="B" transform="translate(59 -3)scale(.3 1.100)">I</text>
<text class="B" transform="translate(60 -12)scale(.14 6.300)">V</text>
<text class="O" transform="translate(61 -2)scale(.14 8.700)">G</text>
<text class="C" transform="translate(62 0)scale(.14 9.500)">C</text>
<text class="R" transform="translate(63 -15)scale(.14 .7)">K</text><text class="G" transform="translate(63 -3)scale(.14 1.400)">Q</text>
<text class="G" transform="translate(64 -17)scale(.14 6.700)">Q</text>
<text class="R" transform="translate(65 -13)scale(.14 2.100)">R</text><text class="B" transform="translate(65 -5)scale(.14 .8)">V</text>
<text class="G" transform="translate(66 0)scale(.14 9.700)">N</text>
<text class="R" transform="translate(67 0)scale(.14 8.800)">K</text>
<text class="R" transform="translate(68 0)scale(.14 9.500)">R</text>
<text class="R" transform="translate(69 0)scale(.14 9.500)">R</text>
<text class="M" transform="translate(70 0)scale(.14 9.500)">D</text>
<text class="T" transform="translate(71 0)scale(.14 9.700)">H</text>
<text class="B" transform="translate(72 0)scale(.3 9.400)">I</text>
<text class="B" transform="translate(73 -5)scale(.18 7)">L</text>
<text class="B" transform="translate(74 -5)scale(.3 6.600)">I</text>
<text class="T" transform="translate(75 0)scale(.14 9.700)">H</text>
<text class="B" transform="translate(76 -3)scale(.14 9)">V</text>
<text class="O" transform="translate(77 -3)scale(.14 7.600)">G</text>
<text class="G" transform="translate(78 -27)scale(.14 4.200)">S</text><text class="B" transform="translate(78 -3)scale(.14 3.400)">A</text>
<text class="T" transform="translate(79 0)scale(.14 9.700)">H</text>
<text class="B" transform="translate(80 -2)scale(.18 7)">L</text>
<text class="M" transform="translate(81 -17)scale(.14 2.500)">D</text><text class="M" transform="translate(81 -7)scale(.14 1.400)">E</text><text class="G" transform="translate(81 -1)scale(.14 .7)">N</text>
<text class="G" transform="translate(82 -17)scale(.14 3.100)">Q</text><text class="T" transform="translate(82 -4)scale(.14 1.800)">H</text>
<text class="R" transform="translate(83 0)scale(.14 9.700)">R</text>
<text class="P" transform="translate(84 0)scale(.14 9.100)">P</text>
<text class="B" transform="translate(85 -15)scale(.16 5.200)">F</text><text class="B" transform="translate(85 -3)scale(.1 1.400)">W</text>
<text class="B" transform="translate(86 -15)scale(.14 .8)">A</text><text class="R" transform="translate(86 -9)scale(.14 .8)">K</text><text class="R" transform="translate(86 -3)scale(.14 .7)">R</text>
<text class="C" transform="translate(87 0)scale(.14 9.500)">C</text>
<text class="T" transform="translate(88 -9)scale(.14 .7)">Y</text><text class="P" transform="translate(88 -3)scale(.14 .7)">P</text>
<text class="T" transform="translate(89 -13)scale(.14 2.100)">H</text><text class="T" transform="translate(89 -5)scale(.14 1)">Y</text>
<text class="C" transform="translate(90 0)scale(.14 9.400)">C</text>
<text class="O" transform="translate(91 -20)scale(.14 1.800)">G</text><text class="G" transform="translate(91 -8)scale(.14 1.500)">S</text><text class="P" transform="translate(91 -2)scale(.14 .8)">P</text>
<text class="B" transform="translate(92 -10)scale(.12 2.100)">M</text><text class="G" transform="translate(92 -3)scale(.14 .8)">S</text>
<text class="R" transform="translate(93 -12)scale(.14 5)">R</text><text class="R" transform="translate(93 -3)scale(.14 1)">K</text>
<text class="B" transform="translate(94 -4)scale(.16 9.100)">F</text>
<text class="B" transform="translate(95 -5)scale(.18 6.300)">L</text>
<text class="R" transform="translate(96 0)scale(.14 9.700)">R</text>
<text class="R" transform="translate(97 0)scale(.14 9.700)">K</text>
<text class="G" transform="translate(98 0)scale(.14 9.700)">N</text>
<text class="M" transform="translate(99 0)scale(.14 9.700)">E</text>
<text class="C" transform="translate(100 0)scale(.14 9.700)">C</text>
<text class="R" transform="translate(101 0)scale(.14 9.700)">K</text>
<text class="R" transform="translate(102 0)scale(.14 9.700)">R</text>
<text class="T" transform="translate(103 0)scale(.14 9.700)">H</text>
<text class="M" transform="translate(104 -15)scale(.14 6.300)">E</text>
<text class="B" transform="translate(105 -16)scale(.14 2.100)">A</text><text class="B" transform="translate(105 -6)scale(.18 1.300)">L</text>
<text class="G" transform="translate(106 -14)scale(.14 5)">S</text><text class="O" transform="translate(106 -3)scale(.14 1.300)">G</text>
<text class="T" transform="translate(107 0)scale(.14 9.700)">H</text>
<text class="G" transform="translate(108 -14)scale(.16 1.700)">T</text><text class="G" transform="translate(108 -7)scale(.14 .8)">S</text>
<text class="O" transform="translate(109 0)scale(.14 8.700)">G</text>
<text class="B" transform="translate(110 -14)scale(.3 1.100)">I</text><text class="R" transform="translate(110 -5)scale(.14 .8)">K</text>
<text class="R" transform="translate(111 0)scale(.14 7.300)">R</text>
<text class="P" transform="translate(112 0)scale(.14 8.800)">P</text>
<text class="B" transform="translate(113 -17)scale(.16 3.900)">F</text><text class="T" transform="translate(113 -2)scale(.14 1.400)">Y</text>
<text class="G" transform="translate(114 -14)scale(.14 1.800)">S</text><text class="T" transform="translate(114 -7)scale(.14 .8)">Y</text>
<text class="C" transform="translate(115 0)scale(.14 9.500)">C</text>
<text class="T" transform="translate(116 -13)scale(.14 .8)">H</text><text class="M" transform="translate(116 -7)scale(.14 .7)">E</text><text class="B" transform="translate(116 -2)scale(.14 .6)">V</text>
<text class="B" transform="translate(117 -14)scale(.3 4.200)">I</text><text class="C" transform="translate(117 -4)scale(.14 1.400)">C</text>
<text class="C" transform="translate(118 0)scale(.14 9.500)">C</text>
<text class="P" transform="translate(119 0)scale(.14 7)">P</text>
<text class="B" transform="translate(120 -10)scale(.16 .7)">F</text><text class="B" transform="translate(120 -3)scale(.14 .7)">A</text>
<text class="G" transform="translate(121 -18)scale(.14 2.500)">Q</text><text class="P" transform="translate(121 -6)scale(.14 1.100)">P</text>
<text class="O" transform="translate(122 -13)scale(.14 1)">G</text><text class="B" transform="translate(122 -5)scale(.14 .8)">A</text>
<text class="R" transform="translate(123 -13)scale(.14 2)">R</text><text class="G" transform="translate(123 -4)scale(.14 .8)">S</text>
<text class="G" transform="translate(124 -12)scale(.16 2.200)">T</text><text class="G" transform="translate(124 -3)scale(.14 1.100)">S</text>
<text class="B" transform="translate(125 0)scale(.16 9.100)">F</text>
<text class="B" transform="translate(126 -7)scale(.14 5.600)">V</text>
<text class="R" transform="translate(127 0)scale(.14 9.700)">R</text>
<text class="G" transform="translate(128 -17)scale(.14 4.600)">Q</text><text class="R" transform="translate(128 -3)scale(.14 1.100)">K</text>
<text class="M" transform="translate(129 0)scale(.14 9.700)">D</text>
<text class="B" transform="translate(130 -8)scale(.18 6.300)">L</text>
<text class="B" transform="translate(131 -8)scale(.18 6.300)">L</text>
<text class="R" transform="translate(132 -5)scale(.14 8.400)">K</text>
<text class="R" transform="translate(133 -5)scale(.14 8.100)">R</text>
<text class="T" transform="translate(134 0)scale(.14 9.700)">H</text>
<text class="B" transform="translate(135 -8)scale(.12 3.800)">M</text><text class="B" transform="translate(135 -2)scale(.14 .7)">K</text>
<text class="R" transform="translate(136 -14)scale(.14 4.200)">K</text><text class="R" transform="translate(136 -5)scale(.14 1.300)">R</text>
<text class="R" transform="translate(137 -18)scale(.14 4.800)">R</text><text class="B" transform="translate(137 -5)scale(.14 1.400)">V</text>
<text class="G" transform="translate(138 -7)scale(.16 4.200)">T</text>
</g>
<g id="brackets">
<path d="M44.300 666V670Q45 683.500 58 683.500H333Q346 683.500 346.700 670V666Q347.400 683.500 360 683.500H500Q513 683.500 513.300 670V666Q513.600 683.500 526 683.500H656Q669 683.500 669.300 670V666Q669.600 683.500 682 683.500H805Q818 683.500 818.300 670V666" fill="none" stroke="#333" stroke-width=".9"/>
</g>
<text class="dm" x="70" y="701.700" textLength="255" lengthAdjust="spacingAndGlyphs">conserved region of unknown function</text>
<text class="dm" x="381" y="701.700" textLength="99" lengthAdjust="spacingAndGlyphs">C2H2 domain 1</text>
<text class="dm" x="543" y="701.700" textLength="100" lengthAdjust="spacingAndGlyphs">C2H2 domain 2</text>
<text class="dm" x="697" y="701.700" textLength="100" lengthAdjust="spacingAndGlyphs">C2H2 domain 3</text>
</g>
</svg>
